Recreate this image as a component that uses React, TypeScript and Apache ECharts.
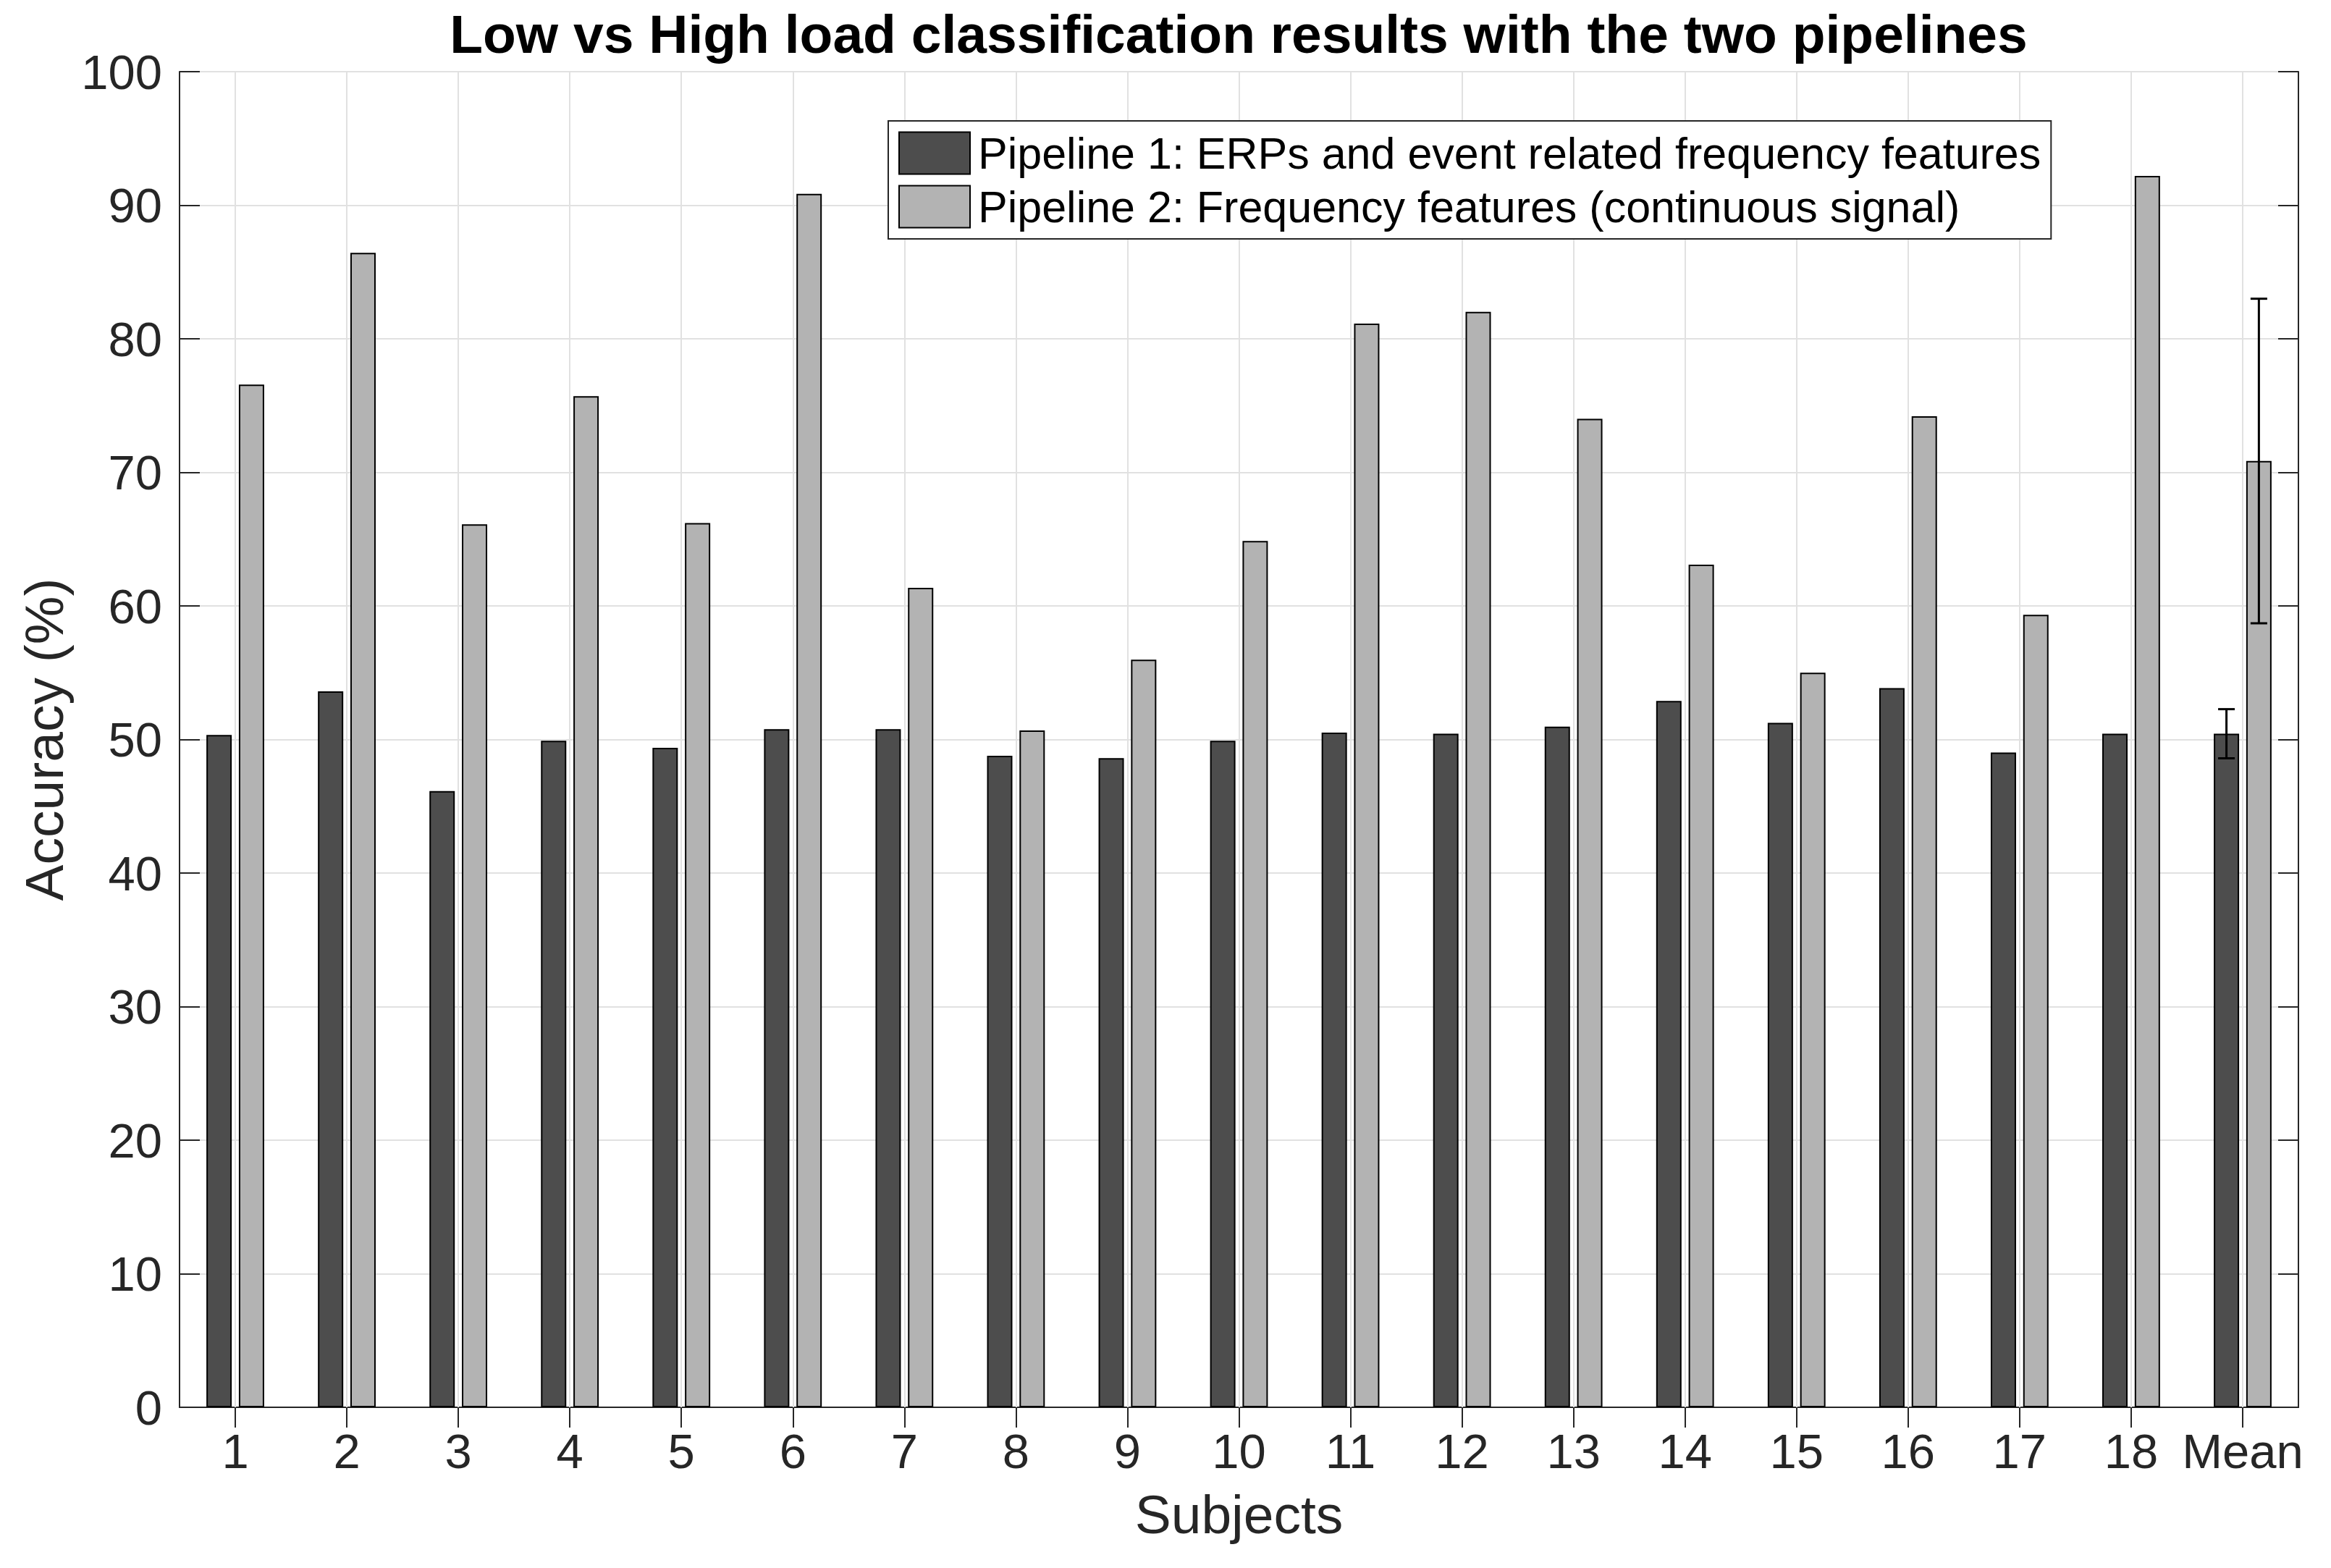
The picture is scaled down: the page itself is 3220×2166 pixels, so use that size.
import React, { useEffect, useRef } from "react";
import * as echarts from "echarts";

const categories = ["1", "2", "3", "4", "5", "6", "7", "8", "9", "10", "11", "12", "13", "14", "15", "16", "17", "18", "Mean"];
const pipeline1 = [50.34, 53.6, 46.14, 49.9, 49.38, 50.77, 50.77, 48.78, 48.6, 49.9, 50.52, 50.43, 50.96, 52.89, 51.24, 53.85, 49.03, 50.43, 50.43];
const pipeline2 = [76.57, 86.43, 66.11, 75.7, 66.2, 90.85, 61.35, 50.68, 55.97, 64.87, 81.14, 82.02, 74.01, 63.09, 55.0, 74.2, 59.33, 92.19, 70.85];
const meanIndex = 18;
const meanStd1 = 1.84;
const meanStd2 = 12.15;
const yTicks = [0, 10, 20, 30, 40, 50, 60, 70, 80, 90, 100];

const seriesNames = [
  "Pipeline 1: ERPs and event related frequency features",
  "Pipeline 2: Frequency features (continuous signal)",
];

const FONT = "'Liberation Sans', Arial, Helvetica, sans-serif";
const AXIS_COLOR = "#262626";
const GRID_COLOR = "#e1e1e1";
const BAR_W = 35;
const BAR_GAP = 0.28;

export default function App() {
  const ref = useRef<HTMLDivElement>(null);

  useEffect(() => {
    document.body.style.margin = "0";
    if (!ref.current) return;
    const chart = echarts.init(ref.current, undefined, { renderer: "svg" });
    const offset = (BAR_W * (1 + BAR_GAP)) / 2;
    const yMin = yTicks[0];
    const yMax = yTicks[yTicks.length - 1];

    const errRender = (sign: number) => (params: any, api: any) => {
      const xi = api.value(0);
      const y = api.value(1);
      const e = api.value(2);
      const top = api.coord([xi, y + e]);
      const bot = api.coord([xi, y - e]);
      const x = top[0] + sign * offset;
      const cap = 11.5;
      const style = { stroke: "#000", lineWidth: 3 };
      return {
        type: "group",
        children: [
          { type: "line", shape: { x1: x, y1: top[1], x2: x, y2: bot[1] }, style },
          { type: "line", shape: { x1: x - cap, y1: top[1], x2: x + cap, y2: top[1] }, style },
          { type: "line", shape: { x1: x - cap, y1: bot[1], x2: x + cap, y2: bot[1] }, style },
        ],
      };
    };

    const tickStyle = { show: true, inside: true, length: 28, lineStyle: { color: AXIS_COLOR, width: 2 } };
    const axisLineStyle = { show: true, lineStyle: { color: AXIS_COLOR, width: 2 } };

    chart.setOption({
      animation: false,
      backgroundColor: "#ffffff",
      title: {
        text: "Low vs High load classification results with the two pipelines",
        left: 1711,
        top: 9,
        padding: 0,
        textAlign: "center",
        textStyle: { fontFamily: FONT, fontSize: 75, fontWeight: "bold", color: "#000" },
      },
      legend: {
        orient: "vertical",
        left: 1227,
        top: 167,
        padding: [14, 14, 14, 14],
        itemWidth: 98,
        itemHeight: 58,
        itemGap: 13,
        icon: "rect",
        borderColor: AXIS_COLOR,
        borderWidth: 2,
        backgroundColor: "#ffffff",
        data: seriesNames,
        textStyle: { fontFamily: FONT, fontSize: 61, color: "#000", padding: [0, 0, 0, 6] },
      },
      grid: { left: 248, right: 45, top: 99, bottom: 222, containLabel: false },
      xAxis: [
        {
          type: "category",
          data: categories,
          name: "Subjects",
          nameLocation: "middle",
          nameGap: 110,
          nameTextStyle: { fontFamily: FONT, fontSize: 75, color: AXIS_COLOR },
          axisLine: axisLineStyle,
          axisTick: { ...tickStyle, alignWithLabel: true, interval: 0 },
          axisLabel: { interval: 0, margin: 27, fontFamily: FONT, fontSize: 67, color: AXIS_COLOR },
          splitLine: { show: false },
        },
        {
          type: "category",
          data: categories,
          position: "top",
          axisLine: axisLineStyle,
          axisTick: { ...tickStyle, alignWithLabel: true, interval: 0 },
          axisLabel: { show: false },
          splitLine: { show: false },
        },
      ],
      yAxis: [
        {
          type: "value",
          min: yMin,
          max: yMax,
          interval: 10,
          name: "Accuracy (%)",
          nameLocation: "middle",
          nameGap: 150,
          nameRotate: 90,
          nameTextStyle: { fontFamily: FONT, fontSize: 75, color: AXIS_COLOR },
          axisLine: axisLineStyle,
          axisTick: tickStyle,
          axisLabel: { margin: 24, fontFamily: FONT, fontSize: 67, color: AXIS_COLOR },
          splitLine: { show: true, lineStyle: { color: GRID_COLOR, width: 2 } },
        },
        {
          type: "value",
          min: yMin,
          max: yMax,
          interval: 10,
          position: "right",
          axisLine: axisLineStyle,
          axisTick: tickStyle,
          axisLabel: { show: false },
          splitLine: { show: false },
        },
      ],
      series: [
        {
          type: "line",
          name: "xgrid",
          data: [],
          symbol: "none",
          silent: true,
          z: 1,
          markLine: {
            silent: true,
            symbol: ["none", "none"],
            label: { show: false },
            z: 1,
            animation: false,
            lineStyle: { color: GRID_COLOR, width: 2, type: "solid" },
            data: categories.map((c) => [{ coord: [c, yMin] }, { coord: [c, yMax] }]),
          },
        },
        {
          name: seriesNames[0],
          type: "bar",
          data: pipeline1,
          barWidth: BAR_W,
          barGap: `${BAR_GAP * 100}%`,
          z: 2,
          itemStyle: { color: "#4d4d4d", borderColor: "#000", borderWidth: 2 },
        },
        {
          name: seriesNames[1],
          type: "bar",
          data: pipeline2,
          barWidth: BAR_W,
          barGap: `${BAR_GAP * 100}%`,
          z: 2,
          itemStyle: { color: "#b3b3b3", borderColor: "#000", borderWidth: 2 },
        },
        {
          type: "custom",
          name: "err1",
          renderItem: errRender(-1),
          data: [[meanIndex, pipeline1[meanIndex], meanStd1]],
          z: 5,
        },
        {
          type: "custom",
          name: "err2",
          renderItem: errRender(1),
          data: [[meanIndex, pipeline2[meanIndex], meanStd2]],
          z: 5,
        },
      ],
    });

    return () => chart.dispose();
  }, []);

  return <div ref={ref} style={{ width: 3220, height: 2166 }} />;
}
